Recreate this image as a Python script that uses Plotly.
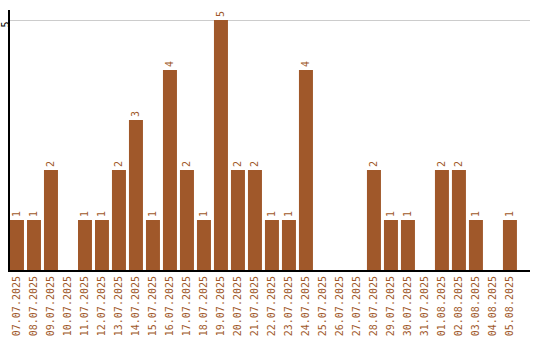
import plotly.graph_objects as go

dates = ["07.07.2025","08.07.2025","09.07.2025","10.07.2025","11.07.2025","12.07.2025",
         "13.07.2025","14.07.2025","15.07.2025","16.07.2025","17.07.2025","18.07.2025",
         "19.07.2025","20.07.2025","21.07.2025","22.07.2025","23.07.2025","24.07.2025",
         "25.07.2025","26.07.2025","27.07.2025","28.07.2025","29.07.2025","30.07.2025",
         "31.07.2025","01.08.2025","02.08.2025","03.08.2025","04.08.2025","05.08.2025"]
counts = [1,1,2,0,1,1,2,3,1,4,2,1,5,2,2,1,1,4,0,0,0,2,1,1,0,2,2,1,0,1]

color = "#A0582A"
labels = [str(v) if v > 0 else "" for v in counts]

fig = go.Figure(go.Bar(
    x=list(range(len(dates))), y=counts, marker_color=color, marker_line_width=0,
    text=labels, textposition="outside", textangle=-90, cliponaxis=False,
    textfont=dict(family="DejaVu Sans Mono", size=10, color=color),
))
fig.update_layout(
    width=540, height=340, margin=dict(l=10, r=10, t=10, b=70),
    paper_bgcolor="white", plot_bgcolor="white", showlegend=False,
    bargap=3/17,
    font=dict(family="DejaVu Sans Mono", size=10, color=color),
)
fig.update_xaxes(
    range=[-0.41, 30.18], tickmode="array", tickvals=list(range(len(dates))), ticktext=dates,
    tickangle=-90, showline=True, linecolor="black", linewidth=2, showgrid=False,
    ticks="", zeroline=False, automargin=False, ticklabelstandoff=0,
    tickfont=dict(family="DejaVu Sans Mono", size=10, color=color),
)
fig.update_yaxes(
    range=[0, 5.2], tickmode="array", tickvals=[5], ticktext=["5"], tickangle=-90,
    showline=True, linecolor="black", linewidth=2, showgrid=True, gridcolor="#cccccc",
    zeroline=False, ticks="", automargin=False, ticklabelstandoff=-5, ticklabelshift=6,
    tickfont=dict(family="DejaVu Sans Mono", size=10, color="black"),
)
fig.write_html("out.html")
